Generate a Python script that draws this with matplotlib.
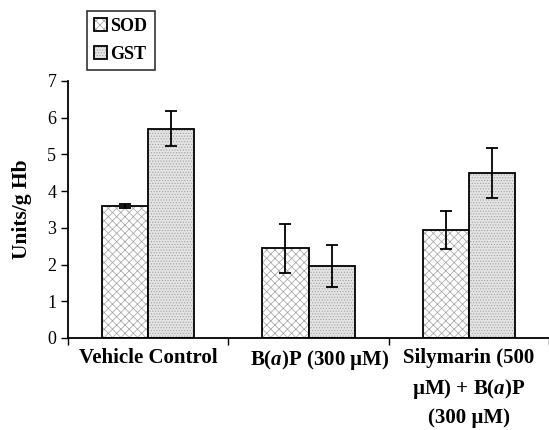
import matplotlib
matplotlib.use("Agg")
import matplotlib.pyplot as plt
import matplotlib.transforms as mtransforms
import numpy as np

plt.rcParams['font.family'] = ['Liberation Serif', 'DejaVu Serif']
plt.rcParams['mathtext.fontset'] = 'custom'
plt.rcParams['mathtext.rm'] = 'Liberation Serif:bold'
plt.rcParams['mathtext.it'] = 'Liberation Serif:bold:italic'
plt.rcParams['hatch.linewidth'] = 0.5

groups = ['Vehicle Control', 'B($\\mathit{a}$)P (300 µM)',
          'Silymarin (500\nµM) + B($\\mathit{a}$)P\n(300 µM)']
sod = [3.6, 2.44, 2.95]
sod_err = [0.06, 0.67, 0.52]
gst = [5.7, 1.96, 4.5]
gst_err = [0.48, 0.58, 0.68]

fig = plt.figure(figsize=(5.49, 4.30), dpi=100)
ax = fig.add_axes([0.124, 0.214, 0.876, 0.598])

xs = np.arange(len(groups))
w = 0.288
hatch_color = '#a0a0a0'
b1 = ax.bar(xs - w / 2, sod, w, color='white', edgecolor='black', linewidth=1.3,
            hatch='xxxx', label='SOD', zorder=2)
b2 = ax.bar(xs + w / 2, gst, w, color='#e4e4e4', edgecolor='black', linewidth=1.3,
            hatch='......', label='GST', zorder=2)
for b in list(b1) + list(b2):
    b._hatch_color = matplotlib.colors.to_rgba(hatch_color)

ax.errorbar(xs - w / 2, sod, yerr=sod_err, fmt='none', ecolor='black', elinewidth=1.3,
            capsize=4, capthick=1.3, zorder=3)
ax.errorbar(xs + w / 2, gst, yerr=gst_err, fmt='none', ecolor='black', elinewidth=1.3,
            capsize=4, capthick=1.3, zorder=3)

ax.set_xlim(-0.5, 2.45)
ax.set_ylim(0, 7)
ax.set_yticks(range(0, 8))
ax.tick_params(axis='y', labelsize=13, direction='out', length=5, width=1)
ax.set_xticks(xs)
ax.set_xticklabels(groups, fontsize=15, fontweight='bold', linespacing=1.5, va='top')
ax.set_xticks([-0.5, 0.5, 1.5, 2.5], minor=True)
ax.tick_params(axis='x', which='major', length=0, pad=7.5)
ax.tick_params(axis='x', which='minor', direction='out', length=5, width=1)
# the middle label sits a little right of its group in the original
lab = ax.get_xticklabels()[1]
lab.set_transform(lab.get_transform() + mtransforms.ScaledTranslation(0.11, 0, fig.dpi_scale_trans))
ax.spines['top'].set_visible(False)
ax.spines['right'].set_visible(False)
ax.spines['left'].set_linewidth(1.3)
ax.spines['bottom'].set_linewidth(1.3)
ax.set_ylabel('Units/g Hb', fontsize=15.5, fontweight='bold', labelpad=11)

leg = fig.legend(loc='upper left', bbox_to_anchor=(0.142, 0.996),
                 prop={'weight': 'bold', 'size': 13}, frameon=True, fancybox=False,
                 edgecolor='black', handlelength=0.7, handleheight=0.7,
                 handletextpad=0.2, labelspacing=0.6, borderpad=0.4)
leg.get_frame().set_linewidth(1.2)

fig.savefig('out.png', dpi=100)
